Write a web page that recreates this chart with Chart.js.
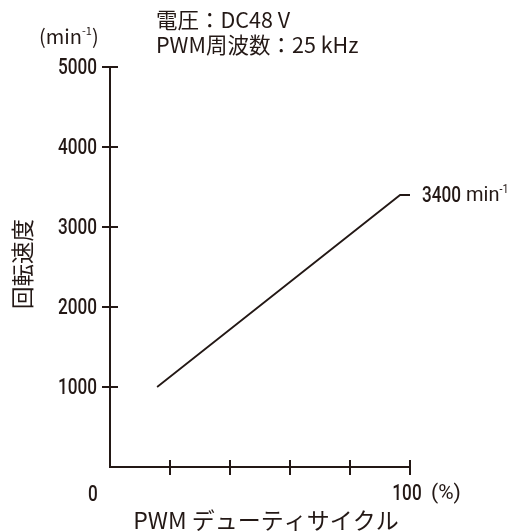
<!DOCTYPE html>
<html><head><meta charset="utf-8">
<script src="https://cdn.jsdelivr.net/npm/chart.js@4/dist/chart.umd.min.js"></script>
<style>html,body{margin:0;padding:0;background:#fff}#wrap{width:515px;height:531px;position:relative}</style>
</head><body><div id="wrap"><canvas id="c"></canvas></div>
<script>
const dutyPct = [15.7, 96.7, 100];
const speedRpm = [1000, 3400, 3400];
const yTicks = [1000, 2000, 3000, 4000, 5000];
const xTicks = [20, 40, 60, 80, 100];
const yTickLabels = ['1000', '2000', '3000', '4000', '5000'];
const xEndLabel = '100';
const xUnit = '(%)';
const zeroLabel = '0';
const yTitle = '回転速度';
const yUnit = ['(min', '-1', ')'];
const note1 = '電圧：DC48 V';
const note2 = 'PWM周波数：25 kHz';
const xTitle = 'PWM デューティサイクル';
const endLabel = ['3400', ' min', '-1'];

const INK = '#231815';
const NUM = '"Roboto", sans-serif';
const JP = '"Noto Sans CJK JP", "Noto Sans", sans-serif';

function cText(ctx, txt, x, y, align, size, sx, weight) {
  ctx.save();
  ctx.font = (weight || 400) + ' ' + size + 'px ' + NUM;
  const w = ctx.measureText(txt).width * sx;
  let lx = x;
  if (align === 'right') lx = x - w; else if (align === 'center') lx = x - w / 2;
  ctx.translate(lx, y); ctx.scale(sx, 1);
  ctx.textAlign = 'left';
  ctx.fillText(txt, 0, 0);
  ctx.restore();
  return w;
}

const decor = {
  id: 'decor',
  afterDraw(chart) {
    const ctx = chart.ctx, xs = chart.scales.x, ys = chart.scales.y;
    const x0 = xs.getPixelForValue(0), x1 = xs.getPixelForValue(100);
    const y0 = ys.getPixelForValue(0), yT = ys.getPixelForValue(5000);
    ctx.save();
    ctx.strokeStyle = INK; ctx.fillStyle = INK; ctx.lineWidth = 2;
    ctx.beginPath(); ctx.moveTo(x0, yT); ctx.lineTo(x0, y0); ctx.lineTo(x1, y0); ctx.stroke();
    yTicks.forEach(v => { const y = ys.getPixelForValue(v); ctx.beginPath(); ctx.moveTo(x0 - 8, y); ctx.lineTo(x0 + 8, y); ctx.stroke(); });
    xTicks.forEach(v => { const x = xs.getPixelForValue(v); ctx.beginPath(); ctx.moveTo(x, y0 - 7); ctx.lineTo(x, y0 + 8); ctx.stroke(); });
    ctx.textBaseline = 'middle';
    yTicks.forEach((v, i) => cText(ctx, yTickLabels[i], x0 - 13, ys.getPixelForValue(v) + 1, 'right', 22, 0.78, 500));
    cText(ctx, zeroLabel, x0 - 17, y0 + 28, 'center', 22, 0.78, 500);
    cText(ctx, xEndLabel, x1 - 3, y0 + 27, 'center', 22, 0.78, 500);
    cText(ctx, xUnit, x1 + 21, y0 + 27, 'left', 21, 1, 400);
    // end label
    const ye = ys.getPixelForValue(3400);
    let ex = x1 + 12;
    ex += cText(ctx, endLabel[0], ex, ye + 1, 'left', 22, 0.78, 500);
    ex += cText(ctx, endLabel[1], ex, ye + 1, 'left', 20, 1, 400);
    cText(ctx, endLabel[2], ex, ye - 5, 'left', 12, 0.9, 400);
    // y unit
    ctx.textAlign = 'left';
    ctx.font = '20px ' + JP;
    let ux = 39, uy = 36;
    ctx.fillText(yUnit[0], ux, uy); ux += ctx.measureText(yUnit[0]).width;
    ctx.font = '11px ' + JP; ctx.fillText(yUnit[1], ux, uy - 5); ux += ctx.measureText(yUnit[1]).width;
    ctx.font = '20px ' + JP; ctx.fillText(yUnit[2], ux, uy);
    // notes
    ctx.font = '21.5px ' + JP;
    ctx.fillText(note1, 156, 20);
    ctx.fillText(note2, 156, 45);
    // x title
    ctx.textAlign = 'center'; ctx.font = '23px ' + JP;
    ctx.fillText(xTitle, 266, 520);
    // y title
    ctx.translate(22, 264); ctx.rotate(-Math.PI / 2);
    ctx.font = '22.5px ' + JP; ctx.fillText(yTitle, 0, 0);
    ctx.restore();
  }
};

new Chart(document.getElementById('c'), {
  type: 'scatter',
  data: { datasets: [{ data: dutyPct.map((d, i) => ({ x: d, y: speedRpm[i] })), showLine: true, borderColor: INK, borderWidth: 1.8, pointRadius: 0, fill: false, tension: 0 }] },
  options: {
    responsive: true, maintainAspectRatio: false, animation: false,
    layout: { padding: { left: 110, right: 105, top: 67, bottom: 64 } },
    plugins: { legend: { display: false }, tooltip: { enabled: false } },
    scales: {
      x: { type: 'linear', min: 0, max: 100, display: false },
      y: { type: 'linear', min: 0, max: 5000, display: false }
    }
  },
  plugins: [decor]
});
</script></body></html>
